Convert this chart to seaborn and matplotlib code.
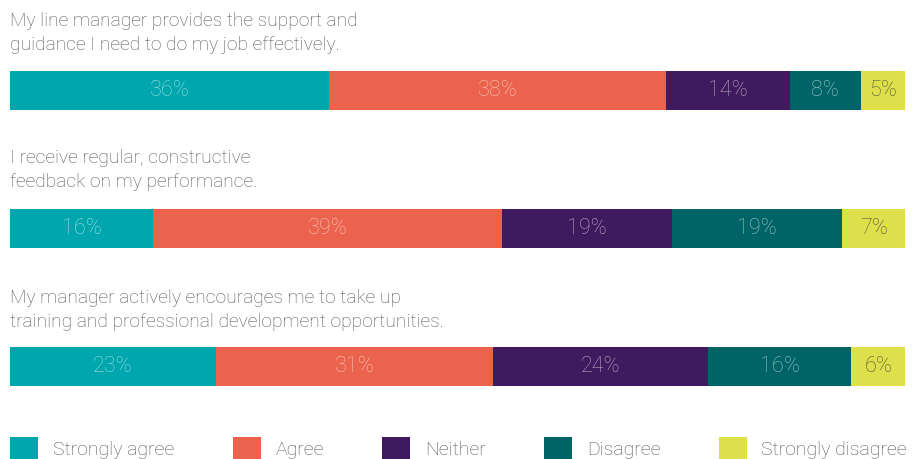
import matplotlib
matplotlib.use("Agg")
import matplotlib.pyplot as plt
import seaborn as sns
import pandas as pd
import numpy as np
from matplotlib.patches import Patch

questions = [
    "My line manager provides the support and\nguidance I need to do my job effectively.",
    "I receive regular, constructive\nfeedback on my performance.",
    "My manager actively encourages me to take up\ntraining and professional development opportunities.",
]
responses = ["Strongly agree", "Agree", "Neither", "Disagree", "Strongly disagree"]
strongly_agree = [36, 16, 23]
agree = [38, 39, 31]
neither = [14, 19, 24]
disagree = [8, 19, 16]
strongly_disagree = [5, 7, 6]

colors = ["#00A6AE", "#EB634C", "#3F1A5E", "#006466", "#DDE04A"]
label_colors = [(1, 1, 1, 0.6)] * 4 + [(0.25, 0.25, 0.25, 0.85)]

sns.set_theme(style="white")
plt.rcParams["font.family"] = ["Roboto", "DejaVu Sans"]
plt.rcParams["font.weight"] = "light"

W, H = 915, 459
fig = plt.figure(figsize=(W / 100, H / 100), dpi=100)

series = [strongly_agree, agree, neither, disagree, strongly_disagree]
vals = np.array(series, dtype=float).T  # rows: questions
totals = vals.sum(axis=1)
shares = vals / totals[:, None] * 100
cum = np.cumsum(shares, axis=1)

qids = ["Q1", "Q2", "Q3"]
bw = 0.2826
top_px, bot_px = 71, 386
ax = fig.add_axes([10 / W, 1 - bot_px / H, 895 / W, (bot_px - top_px) / H])

for k in range(len(responses) - 1, -1, -1):
    df = pd.DataFrame({"q": qids, "cum": cum[:, k]})
    sns.barplot(data=df, x="cum", y="q", color=colors[k], width=bw,
                orient="h", ax=ax, saturation=1, edgecolor="none", linewidth=0)

for i in range(len(qids)):
    for k in range(len(responses)):
        center = cum[i, k] - shares[i, k] / 2
        ax.text(center, i, f"{int(vals[i, k])}%", ha="center", va="center",
                fontsize=15.5, color=label_colors[k], fontweight="light")

ax.set_xlim(0, 100)
ax.set_ylim(2 + bw / 2, -bw / 2)
ax.axis("off")

title_base = [26, 163, 303]
for i, q in enumerate(questions):
    for j, line in enumerate(q.split("\n")):
        fig.text(10 / W, 1 - (title_base[i] + 24 * j) / H, line, ha="left",
                 va="baseline", fontsize=13.8, color="#555555", fontweight="light")

handles = [Patch(facecolor=c, edgecolor="none", label=r) for c, r in zip(colors, responses)]
fig.legend(handles=handles, loc="lower left", bbox_to_anchor=(10 / W - 0.004, -0.010),
           ncol=5, frameon=False, fontsize=14, labelcolor="#555555",
           handlelength=1.45, handleheight=1.4, handletextpad=0.75,
           columnspacing=3.0, borderaxespad=0, borderpad=0.2)

fig.savefig("out.png", dpi=100)
